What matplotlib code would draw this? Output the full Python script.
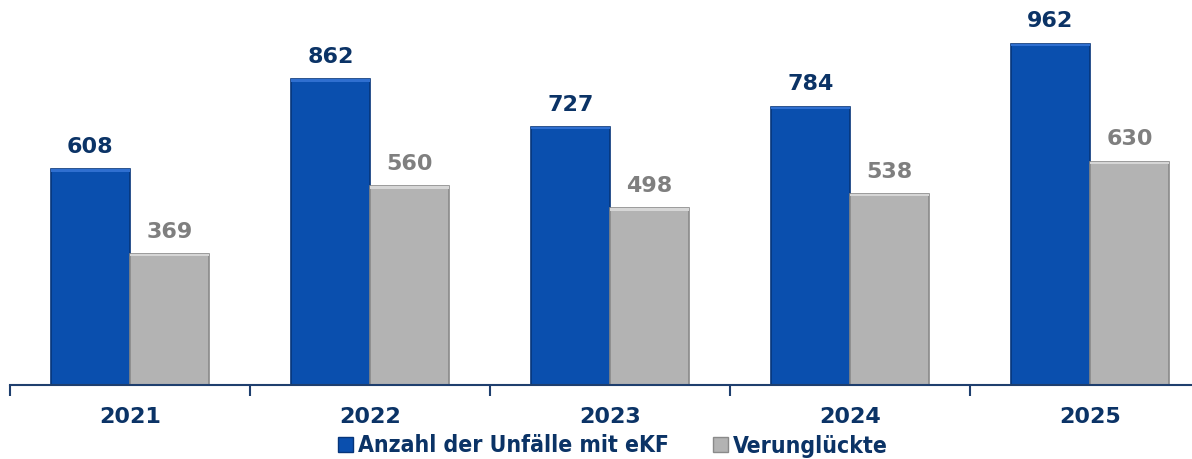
import matplotlib
matplotlib.use("Agg")
import matplotlib.pyplot as plt
from matplotlib.patches import Patch
import numpy as np

years = ["2021", "2022", "2023", "2024", "2025"]
unfaelle = [608, 862, 727, 784, 962]
verunglueckte = [369, 560, 498, 538, 630]
series_names = ["Anzahl der Unfälle mit eKF", "Verunglückte"]

NAVY = "#0b3366"
BLUE = "#0a4fae"
BLUE_EDGE = "#06357a"
GREY = "#b3b3b3"
GREY_EDGE = "#8a8a8a"
GREY_TXT = "#7f7f7f"

fig = plt.figure(figsize=(11.92, 4.59), dpi=100)
ax = fig.add_axes([10/1192, (459-385)/459, 1200/1192, 385/459])

x = np.arange(len(years))
w = 0.33
ax.bar(x - 0.165, unfaelle, w, color=BLUE, edgecolor=BLUE_EDGE, linewidth=1.2, zorder=2)
ax.bar(x + 0.165, verunglueckte, w, color=GREY, edgecolor=GREY_EDGE, linewidth=1.2, zorder=2)

# subtle top highlight (bevel)
ax.bar(x - 0.165, [6]*len(x), w, bottom=np.array(unfaelle) - 6, color="#2f6fd0", linewidth=0, zorder=3)
ax.bar(x + 0.165, [6]*len(x), w, bottom=np.array(verunglueckte) - 6, color="#d6d6d6", linewidth=0, zorder=3)

for xi, v in zip(x - 0.165, unfaelle):
    ax.annotate(str(v), (xi, v), xytext=(0, 12), textcoords="offset points",
                ha="center", va="baseline", fontsize=16, fontweight="bold", color=NAVY)
for xi, v in zip(x + 0.165, verunglueckte):
    ax.annotate(str(v), (xi, v), xytext=(0, 12), textcoords="offset points",
                ha="center", va="baseline", fontsize=16, fontweight="bold", color=GREY_TXT)

ax.set_xlim(-0.5, len(years) - 0.5)
ax.set_ylim(0, 1086)
for s in ["top", "right", "left"]:
    ax.spines[s].set_visible(False)
ax.spines["bottom"].set_color("#1f3f6e")
ax.spines["bottom"].set_linewidth(1.5)
ax.set_yticks([])
ax.set_xticks(x)
ax.set_xticklabels(years, fontsize=16, fontweight="bold", color=NAVY)
ax.tick_params(axis="x", which="major", length=0, pad=16)
ax.set_xticks(np.arange(len(years) + 1) - 0.5, minor=True)
ax.tick_params(axis="x", which="minor", length=8, width=1.5, color="#1f3f6e", direction="out")

handles = [Patch(facecolor=BLUE, edgecolor=BLUE_EDGE), Patch(facecolor=GREY, edgecolor=GREY_EDGE)]
leg = fig.legend(handles, series_names, loc="center", bbox_to_anchor=(613/1192, 1 - 446/459),
                 ncol=2, frameon=False, handlelength=0.65, handleheight=0.65, handletextpad=0.22,
                 columnspacing=1.9, borderpad=0,
                 prop={"size": 16.5, "weight": "bold", "stretch": "condensed"})
for t in leg.get_texts():
    t.set_color(NAVY)

fig.savefig("out.png", dpi=100)
